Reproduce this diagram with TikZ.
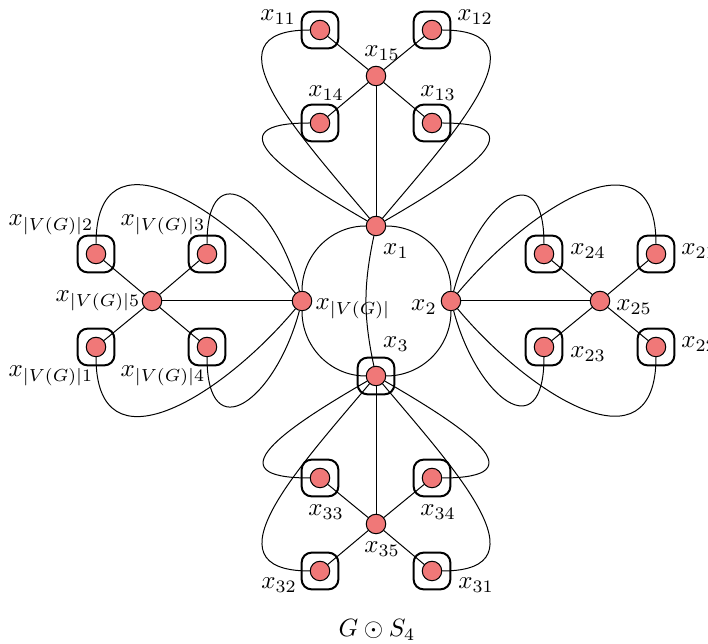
\documentclass[tikz,border=0pt]{standalone}
\usepackage{amsmath,amsfonts,amssymb}
\usepackage{tikz}
\usepackage{xcolor}
\definecolor{vtxred}{RGB}{240,120,120}

\begin{document}
\begin{tikzpicture}[x=0.4pt, y=-0.4pt,
    vtx/.style={draw, circle, fill=vtxred, inner sep=0pt, minimum size=7.8pt, line width=0.4pt},
    sqbox/.style={draw, rectangle, rounded corners=4pt, minimum size=14.7pt, line width=0.8pt},
    lbl/.style={anchor=base, inner sep=0pt}]
    \useasboundingbox (0,0) rectangle (708,644);

    \node[vtx] (x1) at (376,226) {};
    \node[vtx] (x2) at (451,301) {};
    \node[vtx] (x3) at (376,376) {};
    \node[vtx] (xv) at (302,301) {};
    \node[sqbox] (b3) at (x3) {};

    \node[vtx] (x15) at (376,76) {};
    \node[vtx] (x11) at (320,30) {};
    \node[vtx] (x12) at (432,30) {};
    \node[vtx] (x14) at (320,123) {};
    \node[vtx] (x13) at (432,123) {};
    \node[sqbox] (b11) at (x11) {};
    \node[sqbox] (b12) at (x12) {};
    \node[sqbox] (b14) at (x14) {};
    \node[sqbox] (b13) at (x13) {};

    \node[vtx] (x25) at (600,301) {};
    \node[vtx] (x24) at (544,254) {};
    \node[vtx] (x21) at (656,254) {};
    \node[vtx] (x23) at (544,347) {};
    \node[vtx] (x22) at (656,347) {};
    \node[sqbox] (b24) at (x24) {};
    \node[sqbox] (b21) at (x21) {};
    \node[sqbox] (b23) at (x23) {};
    \node[sqbox] (b22) at (x22) {};

    \node[vtx] (x35) at (376,524) {};
    \node[vtx] (x33) at (320,478) {};
    \node[vtx] (x34) at (432,478) {};
    \node[vtx] (x32) at (320,571) {};
    \node[vtx] (x31) at (432,571) {};
    \node[sqbox] (b33) at (x33) {};
    \node[sqbox] (b34) at (x34) {};
    \node[sqbox] (b32) at (x32) {};
    \node[sqbox] (b31) at (x31) {};

    \node[vtx] (xv5) at (152,301) {};
    \node[vtx] (xv2) at (96,254) {};
    \node[vtx] (xv3) at (207,254) {};
    \node[vtx] (xv1) at (96,347) {};
    \node[vtx] (xv4) at (207,347) {};
    \node[sqbox] (bv2) at (xv2) {};
    \node[sqbox] (bv3) at (xv3) {};
    \node[sqbox] (bv1) at (xv1) {};
    \node[sqbox] (bv4) at (xv4) {};

    \node[lbl] (lx1) at (396,255) {$x_1$};
    \node[lbl] (lx2) at (424,311) {$x_2$};
    \node[lbl] (lx3) at (396,348) {$x_3$};
    \node[lbl] (lxv) at (353,310) {$x_{|V(G)|}$};

    \node[lbl] (lx11) at (278,21) {$x_{11}$};
    \node[lbl] (lx12) at (475,21) {$x_{12}$};
    \node[lbl] (lx15) at (382,57) {$x_{15}$};
    \node[lbl] (lx14) at (326,97) {$x_{14}$};
    \node[lbl] (lx13) at (438,97) {$x_{13}$};

    \node[lbl] (lx24) at (588,255) {$x_{24}$};
    \node[lbl] (lx21) at (699,255) {$x_{21}$};
    \node[lbl] (lx25) at (634,311) {$x_{25}$};
    \node[lbl] (lx23) at (588,358) {$x_{23}$};
    \node[lbl] (lx22) at (699,348) {$x_{22}$};

    \node[lbl] (lx33) at (326,516) {$x_{33}$};
    \node[lbl] (lx34) at (438,516) {$x_{34}$};
    \node[lbl] (lx35) at (382,553) {$x_{35}$};
    \node[lbl] (lx32) at (279,589) {$x_{32}$};
    \node[lbl] (lx31) at (476,589) {$x_{31}$};

    \node[lbl] (lxv2) at (51,226) {$x_{|V(G)|2}$};
    \node[lbl] (lxv3) at (163,226) {$x_{|V(G)|3}$};
    \node[lbl] (lxv5) at (98,302) {$x_{|V(G)|5}$};
    \node[lbl] (lxv1) at (51,377) {$x_{|V(G)|1}$};
    \node[lbl] (lxv4) at (163,377) {$x_{|V(G)|4}$};

    \node[lbl] (cap) at (377,637) {$G \odot S_4$};

    \draw (x1) to[out=0, in=90] (x2);
    \draw (x2) to[out=270, in=0] (x3);
    \draw (x3) to[out=180, in=270] (xv);
    \draw (xv) to[out=90, in=180] (x1);
    \draw (x1) to[bend right=12] (x3);

    \draw (x1) -- (x15);
    \draw (x15) -- (x11);
    \draw (x15) -- (x12);
    \draw (x15) -- (x13);
    \draw (x15) -- (x14);
    \draw (x11) to[out=180, in=130, looseness=1.4] (x1);
    \draw (x14) to[out=180, in=150, looseness=2.2] (x1);
    \draw (x12) to[out=0, in=50, looseness=1.4] (x1);
    \draw (x13) to[out=0, in=30, looseness=2.2] (x1);

    \draw (x2) -- (x25);
    \draw (x25) -- (x21);
    \draw (x25) -- (x22);
    \draw (x25) -- (x23);
    \draw (x25) -- (x24);
    \draw (x24) to[out=90, in=75, looseness=2.3] (x2);
    \draw (x21) to[out=90, in=50, looseness=1.45] (x2);
    \draw (x23) to[out=270, in=285, looseness=2.3] (x2);
    \draw (x22) to[out=270, in=310, looseness=1.45] (x2);

    \draw (x3) -- (x35);
    \draw (x35) -- (x31);
    \draw (x35) -- (x32);
    \draw (x35) -- (x33);
    \draw (x35) -- (x34);
    \draw (x33) to[out=180, in=210, looseness=2.2] (x3);
    \draw (x32) to[out=180, in=230, looseness=1.4] (x3);
    \draw (x34) to[out=0, in=330, looseness=2.2] (x3);
    \draw (x31) to[out=0, in=310, looseness=1.4] (x3);

    \draw (xv) -- (xv5);
    \draw (xv5) -- (xv1);
    \draw (xv5) -- (xv2);
    \draw (xv5) -- (xv3);
    \draw (xv5) -- (xv4);
    \draw (xv3) to[out=90, in=105, looseness=2.3] (xv);
    \draw (xv2) to[out=90, in=130, looseness=1.45] (xv);
    \draw (xv4) to[out=270, in=255, looseness=2.3] (xv);
    \draw (xv1) to[out=270, in=230, looseness=1.45] (xv);
\end{tikzpicture}
\end{document}
